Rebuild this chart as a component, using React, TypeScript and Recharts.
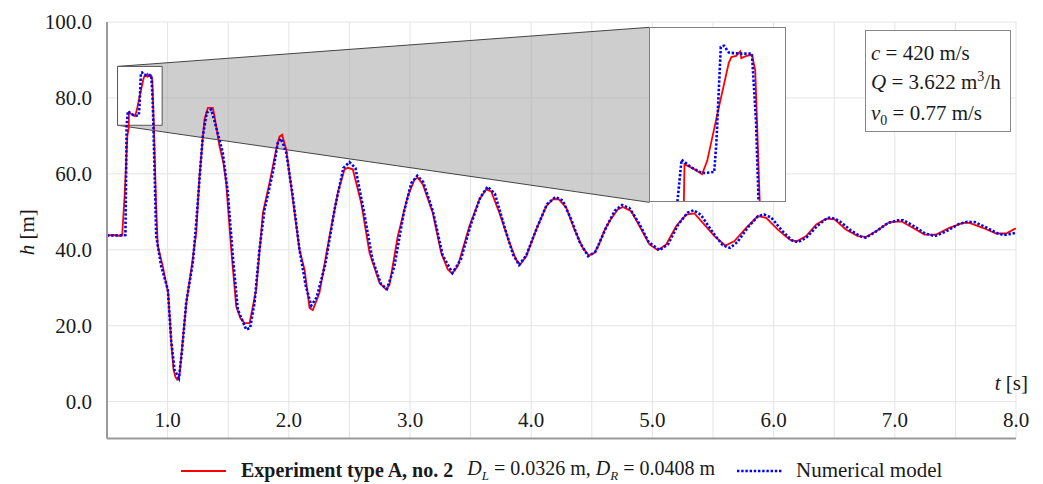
import React from "react";
import {
  LineChart,
  Line,
  XAxis,
  YAxis,
  CartesianGrid,
  ReferenceArea,
  Legend,
} from "recharts";

const FONT = '"Liberation Serif", "Times New Roman", serif';
const INK = "#1a1a1a";

// Experiment type A, no. 2 (red, solid)
const tExp = [
  0.5, 0.55, 0.6, 0.625, 0.645, 0.668, 0.679, 0.681, 0.705, 0.729, 0.743, 0.77, 0.802, 0.809, 0.822,
  0.833, 0.836, 0.85, 0.865, 0.874, 0.887, 0.905, 0.919, 0.96, 1.005, 1.03, 1.049, 1.065, 1.079, 1.098,
  1.125, 1.158, 1.195, 1.236, 1.263, 1.304, 1.332, 1.373, 1.387, 1.428, 1.46, 1.483, 1.525, 1.566, 1.6,
  1.634, 1.676, 1.731, 1.786, 1.841, 1.896, 1.923, 1.945, 1.979, 2.033, 2.088, 2.13, 2.171, 2.198, 2.253,
  2.336, 2.404, 2.46, 2.487, 2.528, 2.597, 2.666, 2.748, 2.803, 2.831, 2.899, 2.982, 3.037, 3.064, 3.106,
  3.188, 3.257, 3.312, 3.348, 3.394, 3.49, 3.573, 3.628, 3.67, 3.738, 3.821, 3.876, 3.909, 3.959, 4.041,
  4.124, 4.178, 4.228, 4.289, 4.357, 4.426, 4.476, 4.522, 4.56, 4.61, 4.646, 4.714, 4.756, 4.825, 4.894,
  4.976, 5.045, 5.114, 5.196, 5.279, 5.347, 5.416, 5.512, 5.603, 5.677, 5.774, 5.87, 5.939, 6.035, 6.131,
  6.187, 6.269, 6.352, 6.434, 6.503, 6.599, 6.695, 6.764, 6.846, 6.956, 7.053, 7.149, 7.245, 7.341, 7.451,
  7.561, 7.616, 7.726, 7.837, 7.919, 7.988, 8.0,
];
const hExp = [
  43.8, 43.9, 43.7, 43.8, 54, 70, 72.0, 76.1, 75.7, 75.2, 76.4, 80.5, 85.2, 85.7, 85.8,
  86.2, 85.6, 85.8, 85.9, 84.5, 72, 52, 41, 35.7, 28.5, 15.5, 8.4, 6.5, 5.8, 6.7,
  16.3, 26.9, 34.8, 44.5, 59.4, 74.3, 77.4, 77.4, 75.2, 67.3, 63, 57.7, 40.1, 25.1, 22,
  20.7, 20.7, 29.5, 49.7, 57.7, 66.4, 69.8, 70.3, 66.4, 53.3, 40, 34.8, 24.7, 24.1, 28.7,
  43.6, 55, 61.2, 61.6, 61.2, 52.4, 39.2, 31.3, 29.5, 30.8, 43.6, 54.1, 58.5, 59, 57.2,
  49.7, 39.2, 34.8, 33.7, 35.7, 46.2, 53.3, 55.9, 55.4, 49.7, 41.8, 37.4, 36.1, 38.3, 45.3,
  51.5, 53.3, 53.3, 51.1, 45.3, 40.5, 38.5, 39.2, 41.5, 45.5, 47.5, 50.6, 51.3, 50.2, 46.2,
  41.4, 39.9, 41.4, 46.2, 49.3, 49.6, 47.1, 43.6, 41.1, 42.3, 45.8, 48.9, 48.4, 45.3, 42.7,
  42.2, 43.6, 46.7, 48.2, 48.0, 45.3, 43.6, 43.4, 44.9, 47.3, 47.5, 45.8, 44.0, 44.0, 45.8,
  47.1, 47.1, 45.8, 44.3, 44.3, 45.5, 45.6,
];

// Numerical model (blue, dotted)
const tNum = [
  0.5, 0.6, 0.652, 0.662, 0.673, 0.7, 0.73, 0.762, 0.768, 0.78, 0.789, 0.802, 0.83, 0.865, 0.876,
  0.883, 0.906, 0.947, 1.002, 1.03, 1.057, 1.093, 1.12, 1.153, 1.208, 1.236, 1.29, 1.323, 1.36, 1.387,
  1.455, 1.497, 1.538, 1.579, 1.648, 1.681, 1.717, 1.758, 1.8, 1.868, 1.909, 1.937, 1.979, 2.033, 2.088,
  2.14, 2.185, 2.23, 2.3, 2.38, 2.45, 2.5, 2.55, 2.62, 2.69, 2.76, 2.81, 2.87, 2.95, 3.01,
  3.06, 3.11, 3.19, 3.27, 3.35, 3.42, 3.5, 3.58, 3.64, 3.7, 3.78, 3.85, 3.9, 3.96, 4.05,
  4.13, 4.2, 4.26, 4.33, 4.4, 4.47, 4.53, 4.62, 4.69, 4.75, 4.81, 4.89, 4.97, 5.06, 5.13,
  5.21, 5.29, 5.34, 5.4, 5.5, 5.58, 5.64, 5.7, 5.79, 5.87, 5.92, 5.98, 6.07, 6.15, 6.2,
  6.27, 6.36, 6.44, 6.47, 6.54, 6.64, 6.72, 6.76, 6.83, 6.94, 7.03, 7.07, 7.16, 7.25, 7.33,
  7.42, 7.53, 7.6, 7.66, 7.76, 7.85, 7.9, 7.96, 8.0,
];
const hNum = [
  43.8, 43.8, 43.9, 72.8, 76.5, 75.8, 75.3, 75.4, 78, 86.6, 86.7, 86.1, 86.0, 86.0, 80,
  72.8, 43.6, 35.7, 29.5, 16, 8.4, 6.2, 13.7, 26, 36.6, 47.1, 69.9, 76.1, 77, 73.9,
  65.6, 55, 38.3, 24.3, 19, 19.4, 26, 40.1, 50.6, 60.3, 68.2, 69.3, 65.6, 54.1, 40.1,
  30.5, 25.3, 27.5, 36, 51, 61.5, 63.1, 61.5, 50, 37.5, 31, 29.7, 35.5, 50, 57.5,
  59.5, 57.8, 50, 38.5, 33.9, 37.5, 46.5, 53.8, 56.6, 54.8, 46, 38.8, 36, 38.6, 46,
  52, 53.9, 53, 48, 42, 38.3, 39.5, 46, 50.3, 51.8, 51, 47, 42, 39.9, 41.5,
  46.5, 49.8, 50.4, 49.2, 44.5, 41.2, 40.5, 42, 46, 48.8, 49.3, 48.5, 45, 42.5, 42,
  43.2, 46.3, 48.3, 48.5, 47.7, 45, 43.5, 43.2, 44.5, 47, 47.8, 47.8, 46.2, 44.3, 43.6,
  44.8, 46.8, 47.4, 47.3, 45.8, 44.3, 43.9, 44.2, 44.5,
];

const xTicks = [0.5, 1, 1.5, 2, 2.5, 3, 3.5, 4, 4.5, 5, 5.5, 6, 6.5, 7, 7.5, 8];
const yTicks = [0, 20, 40, 60, 80, 100];

const expData = tExp.map((t, i) => ({ t, h: hExp[i] }));
const numData = tNum.map((t, i) => ({ t, h: hNum[i] }));

// layout
const W = 1043;
const H = 484;
const M = { top: 22, right: 27, bottom: 44.5, left: 7 };
const Y_AXIS_W = 100;
const X_AXIS_H = 1;
const X_DOMAIN = [0.5, 8];
const Y_DOMAIN = [-9.7, 100];

// zoomed window, and the box (in main chart units) where its enlargement sits
const zoomT = [0.587, 0.955];
const zoomH = [72.8, 88.3];
const boxT = [4.976, 6.106];
const boxH = [52.5, 98.6];

const plotL = M.left + Y_AXIS_W;
const plotR = W - M.right;
const plotT = M.top;
const plotB = H - M.bottom - X_AXIS_H;
const px = (t: number) => plotL + ((t - X_DOMAIN[0]) / (X_DOMAIN[1] - X_DOMAIN[0])) * (plotR - plotL);
const py = (h: number) => plotT + ((Y_DOMAIN[1] - h) / (Y_DOMAIN[1] - Y_DOMAIN[0])) * (plotB - plotT);

const RED = "#ff0000";
const BLUE = "#0000ff";
const DOTS = "2.4 1.8";

// gray funnel from the small window to the enlarged box
const Funnel = (props: any) => {
  const { x, y, width, height } = props;
  const span = boxH[1] - boxH[0];
  const yTop = y + ((boxH[1] - zoomH[1]) / span) * height;
  const yBot = y + ((boxH[1] - zoomH[0]) / span) * height;
  const x2 = x + width;
  return (
    <g>
      <polygon
        points={`${x},${yTop} ${x2},${y} ${x2},${y + height} ${x},${yBot}`}
        fill="#a6a6a6"
        fillOpacity={0.55}
      />
      <line x1={x} y1={yTop} x2={x2} y2={y} stroke="#444" strokeWidth={1} />
      <line x1={x} y1={yBot} x2={x2} y2={y + height} stroke="#444" strokeWidth={1} />
    </g>
  );
};

const XTick = ({ x, y, payload }: any) =>
  Number.isInteger(payload.value) ? (
    <text x={x} y={y} dy={-12} textAnchor="middle" fill={INK} fontSize={21} fontFamily={FONT}>
      {payload.value.toFixed(1)}
    </text>
  ) : (
    <g />
  );

const LegendBox = () => (
  <div
    style={{
      display: "flex",
      alignItems: "center",
      fontFamily: FONT,
      color: INK,
      whiteSpace: "nowrap",
    }}
  >
    <svg width={45} height={10}>
      <line x1={0} y1={5} x2={45} y2={5} stroke={RED} strokeWidth={1.8} />
    </svg>
    <span style={{ marginLeft: 15, fontWeight: "bold", fontSize: 20 }}>Experiment type A, no. 2</span>
    <span style={{ marginLeft: 14, fontSize: 20 }}>
      <i>D</i>
      <sub style={{ fontSize: 13, fontStyle: "italic" }}>L</sub> = 0.0326 m, <i>D</i>
      <sub style={{ fontSize: 13, fontStyle: "italic" }}>R</sub> = 0.0408 m
    </span>
    <svg width={45} height={10} style={{ marginLeft: 22 }}>
      <line x1={0} y1={5} x2={45} y2={5} stroke={BLUE} strokeWidth={2.6} strokeDasharray={DOTS} />
    </svg>
    <span style={{ marginLeft: 14, fontSize: 21 }}>Numerical model</span>
  </div>
);

export default function App() {
  const boxLeft = px(boxT[0]);
  const boxTop = py(boxH[1]);
  const boxW = px(boxT[1]) - boxLeft;
  const boxHt = py(boxH[0]) - boxTop;

  return (
    <div style={{ position: "absolute", left: 0, top: 0, width: W, height: H, background: "#fff" }}>
      <LineChart width={W} height={H} margin={M}>
        <CartesianGrid stroke="#e4e4e4" strokeWidth={1} />
        <XAxis
          type="number"
          dataKey="t"
          domain={X_DOMAIN}
          ticks={xTicks}
          interval={0}
          allowDataOverflow
          height={X_AXIS_H}
          tickLine={false}
          tickSize={0}
          tickMargin={0}
          tick={<XTick />}
          axisLine={{ stroke: "#9a9a9a", strokeWidth: 2 }}
          label={{
            content: ({ viewBox }: any) => (
              <text
                x={viewBox.x + viewBox.width + 12}
                y={viewBox.y - 49}
                textAnchor="end"
                fill={INK}
                fontSize={21}
                fontFamily={FONT}
              >
                <tspan fontStyle="italic">t</tspan> [s]
              </text>
            ),
          }}
        />
        <YAxis
          type="number"
          domain={Y_DOMAIN}
          ticks={yTicks}
          allowDataOverflow
          width={Y_AXIS_W}
          tickLine={false}
          tickMargin={9}
          tickFormatter={(v: number) => v.toFixed(1)}
          tick={{ fill: INK, fontSize: 21, fontFamily: FONT }}
          axisLine={{ stroke: "#9a9a9a", strokeWidth: 2 }}
          label={{
            content: ({ viewBox }: any) => (
              <text
                transform={`translate(${viewBox.x + 20},${viewBox.y + viewBox.height / 2 + 2}) rotate(-90)`}
                textAnchor="middle"
                dominantBaseline="central"
                fill={INK}
                fontSize={21}
                fontFamily={FONT}
              >
                <tspan fontStyle="italic">h</tspan> [m]
              </text>
            ),
          }}
        />
        <ReferenceArea x1={zoomT[0]} x2={boxT[0]} y1={boxH[0]} y2={boxH[1]} shape={<Funnel />} />
        <ReferenceArea
          x1={zoomT[0]}
          x2={zoomT[1]}
          y1={zoomH[0]}
          y2={zoomH[1]}
          fill="#ffffff"
          fillOpacity={1}
          stroke="#555"
          strokeWidth={1}
        />
        <Legend
          layout="horizontal"
          verticalAlign="middle"
          align="center"
          content={<LegendBox />}
          wrapperStyle={{ left: 181, top: 457, width: 860, height: 26 }}
        />
        <Line
          data={expData}
          dataKey="h"
          type="linear"
          stroke={RED}
          strokeWidth={1.8}
          dot={false}
          activeDot={false}
          isAnimationActive={false}
        />
        <Line
          data={numData}
          dataKey="h"
          type="linear"
          stroke={BLUE}
          strokeWidth={2.6}
          strokeDasharray={DOTS}
          dot={false}
          activeDot={false}
          isAnimationActive={false}
        />
      </LineChart>

      {/* enlarged view of the first pressure step */}
      <div
        style={{
          position: "absolute",
          left: boxLeft,
          top: boxTop,
          width: boxW,
          height: boxHt,
          border: "1px solid #808080",
          background: "#fff",
          boxSizing: "border-box",
        }}
      >
        <LineChart width={boxW - 2} height={boxHt - 2} margin={{ top: 0, right: 0, bottom: 0, left: 0 }}>
          <XAxis type="number" dataKey="t" domain={zoomT} allowDataOverflow hide />
          <YAxis type="number" domain={zoomH} allowDataOverflow hide />
          <Line
            data={expData}
            dataKey="h"
            type="linear"
            stroke={RED}
            strokeWidth={1.8}
            dot={false}
            activeDot={false}
            isAnimationActive={false}
          />
          <Line
            data={numData}
            dataKey="h"
            type="linear"
            stroke={BLUE}
            strokeWidth={2.6}
            strokeDasharray={DOTS}
            dot={false}
            activeDot={false}
            isAnimationActive={false}
          />
        </LineChart>
      </div>

      {/* parameters */}
      <div
        style={{
          position: "absolute",
          left: 865,
          top: 30,
          width: 146,
          height: 102,
          border: "1px solid #888",
          background: "#fff",
          boxSizing: "border-box",
          fontFamily: FONT,
          fontSize: 21,
          lineHeight: "28.5px",
          padding: "8px 0 0 5px",
          color: INK,
          whiteSpace: "nowrap",
        }}
      >
        <div>
          <i>c</i> = 420 m/s
        </div>
        <div>
          <i>Q</i> = 3.622 m<span style={{ fontSize: 14, position: "relative", top: -8 }}>3</span>/h
        </div>
        <div>
          <i>v</i>
          <span style={{ fontSize: 14, position: "relative", top: 5 }}>0</span> = 0.77 m/s
        </div>
      </div>
    </div>
  );
}
